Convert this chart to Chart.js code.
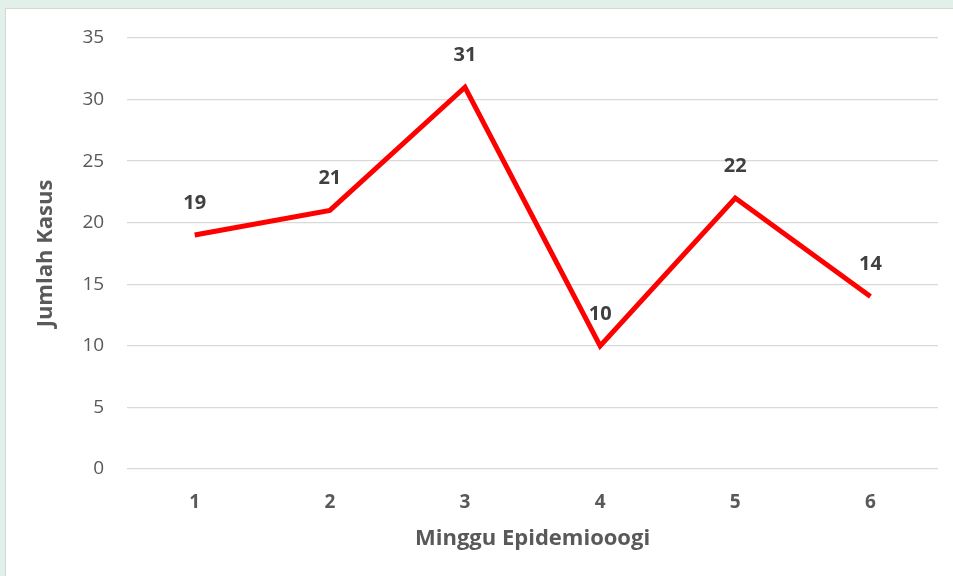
<html>
<head>
    <title>Jumlah Kasus</title>
    <script src="https://cdn.jsdelivr.net/npm/chart.js"></script>
    <style>
        body { margin: 0; background: #e2f0ea; width: 953px; height: 576px; overflow: hidden; }
        #box { position: absolute; left: 5px; top: 8px; width: 948px; height: 568px; background: #fff; border-left: 1px solid #d6d6d6; border-top: 1px solid #d6d6d6; }
    </style>
</head>
<body>
<div id="box"><canvas id="chart" width="948" height="568"></canvas></div>

<script>
    const minggu = ['1', '2', '3', '4', '5', '6'];
    const jumlahKasus = [19, 21, 31, 10, 22, 14];
    const yTicks = [0, 5, 10, 15, 20, 25, 30, 35];

    // label angka di atas tiap titik
    const labelAngka = {
        id: 'labelAngka',
        afterDatasetsDraw(chart) {
            const ctx = chart.ctx;
            const meta = chart.getDatasetMeta(0);
            ctx.save();
            ctx.font = 'bold 20px "Open Sans", sans-serif';
            ctx.fillStyle = '#404040';
            ctx.textAlign = 'center';
            ctx.textBaseline = 'middle';
            meta.data.forEach((pt, i) => {
                ctx.fillText(jumlahKasus[i], pt.x, pt.y - 32);
            });
            ctx.restore();
        }
    };

    const ctx = document.getElementById('chart').getContext('2d');
    const chart = new Chart(ctx, {
        type: 'line',
        data: {
            labels: minggu,
            datasets: [{
                data: jumlahKasus,
                borderColor: '#ff0000',
                borderWidth: 5,
                pointRadius: 0,
                tension: 0
            }]
        },
        options: {
            responsive: false,
            animation: false,
            layout: { padding: { left: 23, right: 16, top: 29, bottom: 23 } },
            plugins: { legend: { display: false }, tooltip: { enabled: false } },
            scales: {
                x: {
                    offset: true,
                    grid: { display: false },
                    border: { display: false },
                    ticks: { color: '#595959', font: { family: '"Open Sans", sans-serif', size: 19, weight: 'bold', lineHeight: 1.0 }, padding: 16 },
                    title: { display: true, text: 'Minggu Epidemiooogi', color: '#595959', font: { family: '"Open Sans", sans-serif', size: 22, weight: 'bold', lineHeight: 1.0 }, padding: { top: 0 } }
                },
                y: {
                    min: 0,
                    max: 35,
                    afterBuildTicks: (axis) => { axis.ticks = yTicks.map(v => ({ value: v })); },
                    grid: { color: '#d9d9d9', lineWidth: 1.3, drawTicks: false },
                    border: { display: false },
                    ticks: { color: '#595959', font: { family: '"Open Sans", sans-serif', size: 19, lineHeight: 0.6 }, padding: 23 },
                    title: { display: true, text: 'Jumlah Kasus', color: '#595959', font: { family: '"Open Sans", sans-serif', size: 22, weight: 'bold' }, padding: { bottom: 0 } }
                }
            }
        },
        plugins: [labelAngka]
    });
</script>
</body>
</html>
